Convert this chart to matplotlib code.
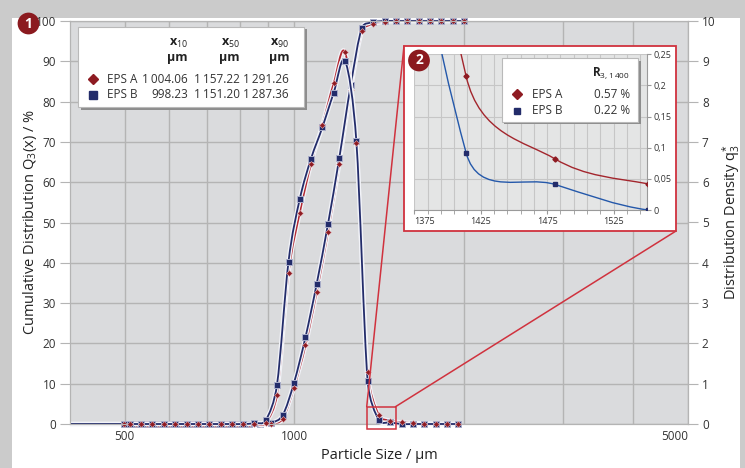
import numpy as np
import matplotlib
matplotlib.use('Agg')
import matplotlib.pyplot as plt
from matplotlib.path import Path
from matplotlib.patches import PathPatch, Rectangle, ConnectionPatch
from matplotlib.lines import Line2D
from matplotlib.ticker import NullFormatter
import matplotlib.patheffects as pe

plt.rcParams['font.family'] = ['Open Sans', 'DejaVu Sans']
plt.rcParams['mathtext.fontset'] = 'custom'
plt.rcParams['mathtext.rm'] = 'Open Sans'
plt.rcParams['mathtext.it'] = 'Open Sans'
plt.rcParams['mathtext.bf'] = 'Open Sans:bold'

#### D A T A ####

# class boundaries (cumulative Q3) and class midpoints (density q3*), in µm
size_cum = [400, 499, 523, 548, 573, 600, 629, 659, 690, 723, 757, 793, 830, 870, 911, 954,
            999, 1047, 1096, 1148, 1202, 1260, 1319, 1382, 1447, 1516, 1587, 1662, 1741,
            1824, 1910, 2001]
cum_a = [0, 0, 0, 0, 0, 0, 0, 0, 0, 0, 0, 0, 0, 0.0, 0.1, 1.3,
         9.0, 19.5, 32.7, 47.6, 64.5, 82.9, 97.4, 99.3, 99.8, 100, 100, 100, 100,
         100, 100, 100]
cum_b = [0, 0, 0, 0, 0, 0, 0, 0, 0, 0, 0, 0, 0, 0.1, 0.3, 2.2,
         10.2, 21.5, 34.7, 49.6, 65.9, 84.1, 98.3, 99.7, 100, 100, 100, 100, 100,
         100, 100, 100]

size_dens = [511, 535, 560, 587, 615, 644, 674, 706, 740, 775, 811, 850, 890, 932, 977,
             1023, 1071, 1122, 1175, 1231, 1289, 1350, 1414, 1481, 1551, 1625, 1702,
             1782, 1867, 1955]
dens_a = [0, 0, 0, 0, 0, 0, 0, 0, 0, 0, 0, 0.0, 0.03, 0.73, 3.74,
          5.24, 6.45, 7.42, 8.45, 9.22, 6.98, 1.29, 0.215, 0.082, 0.042, 0.025, 0.012,
          0.005, 0, 0]
dens_b = [0, 0, 0, 0, 0, 0, 0, 0, 0, 0, 0, 0.02, 0.09, 0.97, 4.03,
          5.58, 6.58, 7.36, 8.22, 9.01, 7.03, 1.07, 0.092, 0.041, 0.0, 0, 0,
          0, 0, 0]

samples = ['EPS A', 'EPS B']
x10 = ['1\u2009004.06', '998.23']
x50 = ['1\u2009157.22', '1\u2009151.20']
x90 = ['1\u2009291.26', '1\u2009287.36']
residue = ['0.57 %', '0.22 %']

RED_M = '#8e1b22'
RED_L = '#b3262f'
NAVY = '#232c6a'
BLUE_IN = '#2458aa'
GRID = '#b4b4b4'
TXT = '#333333'

W, H = 745, 468


def px(x, y):
    return x / W, 1 - y / H


def excel_path(ax, x, y):
    # Excel style smoothed line: bezier through the points, tangent capped
    pts = ax.transData.transform(np.column_stack([x, y]))
    n = len(pts)
    verts = [pts[0]]
    codes = [Path.MOVETO]
    for i in range(n - 1):
        p0 = pts[i - 1] if i > 0 else pts[i]
        p1, p2 = pts[i], pts[i + 1]
        p3 = pts[i + 2] if i + 2 < n else pts[i + 1]
        d12 = np.hypot(*(p2 - p1))
        d02 = np.hypot(*(p2 - p0))
        d13 = np.hypot(*(p3 - p1))
        f1 = 1 / 6 if d02 / 6 < d12 / 2 else (d12 / (2 * d02) if d02 > 0 else 0)
        f2 = 1 / 6 if d13 / 6 < d12 / 2 else (d12 / (2 * d13) if d13 > 0 else 0)
        verts += [p1 + (p2 - p0) * f1, p2 - (p3 - p1) * f2, p2]
        codes += [Path.CURVE4] * 3
    verts = ax.transData.inverted().transform(np.array(verts))
    return Path(verts, codes)


fig = plt.figure(figsize=(W / 100, H / 100), dpi=100)
fig.patch.set_facecolor('#cbcbcb')
fig.add_artist(Rectangle(px(12, 468), (740 - 12) / W, (468 - 18) / H, transform=fig.transFigure,
                         facecolor='white', edgecolor='none', zorder=-5))

#### M A I N _ P L O T ####
l, b = px(70, 424)
ax = fig.add_axes([l, b, (688 - 70) / W, (424 - 21) / H])
ax.set_xscale('log')
ax.set_xlim(400, 5000)
ax.set_ylim(0, 100)
ax.set_facecolor('#dadbdd')
ax.set_xticks([500, 1000, 5000])
ax.set_xticklabels(['500', '1000', '5000'])
ax.set_xticks([600, 700, 800, 900, 2000, 3000, 4000], minor=True)
ax.xaxis.set_minor_formatter(NullFormatter())
ax.get_xticklabels()[-1].set_ha('right')
ax.set_yticks(range(0, 101, 10))
ax.grid(True, which='both', axis='both', color=GRID, lw=1)
ax.set_axisbelow(True)
ax.tick_params(axis='x', which='both', length=0, labelsize=8.5, labelcolor=TXT, pad=4)
ax.tick_params(axis='y', length=7, color=GRID, labelsize=8.5, labelcolor=TXT, pad=3)
for s in ax.spines.values():
    s.set_color(GRID)
ax.set_xlabel('Particle Size / µm', fontsize=10.5, color='#222222', labelpad=4)
ax.set_ylabel('Cumulative Distribution Q$_3$(x) / %', fontsize=10.5, color='#222222')
ax.yaxis.set_label_coords(-0.05, 0.5)

ax2 = ax.twinx()
ax2.set_xlim(400, 5000)
ax2.set_ylim(0, 10)
ax2.set_yticks(range(0, 11))
ax2.tick_params(axis='y', length=7, color=GRID, labelsize=8.5, labelcolor=TXT, pad=3)
for s in ax2.spines.values():
    s.set_color(GRID)
ax2.set_ylabel('Distribution Density q$_{3}^{*}$', fontsize=10.5, color='#222222', labelpad=3)

halo = [pe.Stroke(linewidth=3.2, foreground='#f2f3f8'), pe.Normal()]
for axis, xs, ys, col in [(ax, size_cum, cum_a, RED_L), (ax, size_cum, cum_b, NAVY),
                          (ax2, size_dens, dens_a, RED_L), (ax2, size_dens, dens_b, NAVY)]:
    axis.add_patch(PathPatch(excel_path(axis, xs, ys), fill=False, ec=col, lw=1.3,
                             clip_on=False, path_effects=halo, zorder=3))

for axis, xs, ya, yb, skip in [(ax, size_cum, cum_a, cum_b, 1), (ax2, size_dens, dens_a, dens_b, 0)]:
    axis.plot(xs, yb, ls='none', marker='s', ms=4.4, mfc=NAVY, mec='#a9adc9', mew=0.7,
              markevery=slice(skip, None), clip_on=False, zorder=4)
    axis.plot(xs, ya, ls='none', marker='D', ms=3.0, mfc=RED_M, mec='#e6b9bd', mew=0.4,
              markevery=slice(skip, None), clip_on=False, zorder=5)

# zoom box and connector lines
zoom = Rectangle((1345, -0.13), 1513 - 1345, 0.56, fill=False, ec='#d0323e', lw=1.1,
                 clip_on=False, zorder=6)
ax2.add_patch(zoom)
for xa, ya, xb, yb in [(1345, 0.43, 404, 46), (1513, 0.43, 676, 231)]:
    fig.add_artist(ConnectionPatch(xyA=(xa, ya), coordsA=ax2.transData, xyB=px(xb, yb),
                                   coordsB=fig.transFigure, color='#d0323e', lw=1.1, zorder=4))

#### L E G E N D _ T A B L E ####
fig.add_artist(Rectangle(px(80.5, 109.5), (304 - 78) / W, (107 - 27) / H, transform=fig.transFigure,
                         facecolor='#8d8d8d', edgecolor='none', zorder=7))
fig.add_artist(Rectangle(px(78, 107), (304 - 78) / W, (107 - 27) / H, transform=fig.transFigure,
                         facecolor='white', edgecolor='#b9b9b9', lw=0.8, zorder=8))
for xr, head in [(188, 'x$_{10}$'), (240, 'x$_{50}$'), (289, 'x$_{90}$')]:
    fig.text(*px(xr, 43), head, ha='right', va='center', fontsize=9, weight='bold', color='#222222', zorder=9)
    fig.text(*px(xr, 58), 'µm', ha='right', va='center', fontsize=9, weight='bold', color='#222222', zorder=9)
for i, (name, mk, col, ms) in enumerate(zip(samples, ['D', 's'], [RED_M, NAVY], [5, 5.5])):
    yy = 79 + 16 * i
    fig.add_artist(Line2D([px(93, yy)[0]], [px(93, yy)[1]], transform=fig.transFigure, marker=mk,
                          ms=ms, color=col, ls='none', zorder=9))
    fig.text(*px(107, yy), name, ha='left', va='center', fontsize=8.5, color=TXT, zorder=9)
    for xr, val in [(188, x10[i]), (240, x50[i]), (289, x90[i])]:
        fig.text(*px(xr, yy), val, ha='right', va='center', fontsize=8.5, color=TXT, zorder=9)

fig.text(*px(28.5, 23.5), '1', ha='center', va='center', fontsize=10, weight='bold', color='white',
         bbox=dict(boxstyle='circle,pad=0.28', fc='#8b1a1f', ec='none'), zorder=9)

#### I N S E T ####
fig.add_artist(Rectangle(px(404, 231), (676 - 404) / W, (231 - 46) / H, transform=fig.transFigure,
                         facecolor='white', edgecolor='#d0323e', lw=1.3, zorder=10))
l, b = px(414.3, 210)
ax_in = fig.add_axes([l, b, 232.4 / W, 155.7 / H])
ax_in.set_zorder(11)
ax_in.set_xlim(1375, 1550)
ax_in.set_ylim(0, 0.25)
ax_in.set_facecolor('#e4e5e5')
ax_in.set_xticks([1375, 1425, 1475, 1525])
ax_in.set_xticks(np.arange(1385, 1550, 10), minor=True)
ax_in.xaxis.set_minor_formatter(NullFormatter())
ax_in.get_xticklabels()[0].set_ha('left')
ax_in.set_yticks([0, 0.05, 0.1, 0.15, 0.2, 0.25])
ax_in.set_yticklabels(['0', '0,05', '0,1', '0,15', '0,2', '0,25'])
ax_in.yaxis.tick_right()
ax_in.grid(True, which='both', color='#c6c6c6', lw=0.8)
ax_in.set_axisbelow(True)
ax_in.tick_params(which='both', length=3, color='#999999', labelsize=6.5, labelcolor=TXT, pad=2)
for k in ['left', 'top']:
    ax_in.spines[k].set_visible(False)
for k in ['right', 'bottom']:
    ax_in.spines[k].set_color('#9a9a9a')
for ys, col in [(dens_a, '#a3262d'), (dens_b, BLUE_IN)]:
    ax_in.add_patch(PathPatch(excel_path(ax_in, size_dens, ys), fill=False, ec=col, lw=1.0, zorder=3))
ax_in.plot(size_dens, dens_a, ls='none', marker='D', ms=2.6, color=RED_M, zorder=4)
ax_in.plot(size_dens, dens_b, ls='none', marker='s', ms=2.8, color=NAVY, zorder=4)

fig.add_artist(Rectangle(px(504, 124), (638.3 - 501.7) / W, (121.7 - 58.3) / H, transform=fig.transFigure,
                         facecolor='#8d8d8d', edgecolor='none', zorder=12))
fig.add_artist(Rectangle(px(501.7, 121.7), (638.3 - 501.7) / W, (121.7 - 58.3) / H, transform=fig.transFigure,
                         facecolor='white', edgecolor='#b9b9b9', lw=0.8, zorder=13))
fig.text(*px(630, 73.5), 'R$_{3,1\\,400}$', ha='right', va='center', fontsize=8.5, weight='bold',
         color='#222222', zorder=14)
for i, (name, mk, col) in enumerate(zip(samples, ['D', 's'], [RED_M, NAVY])):
    yy = 94.3 + 16.4 * i
    fig.add_artist(Line2D([px(516.7, yy)[0]], [px(516.7, yy)[1]], transform=fig.transFigure, marker=mk,
                          ms=5, color=col, ls='none', zorder=14))
    fig.text(*px(531.7, yy), name, ha='left', va='center', fontsize=8.5, color=TXT, zorder=14)
    fig.text(*px(630, yy), residue[i], ha='right', va='center', fontsize=8.5, color=TXT, zorder=14)

fig.text(*px(419, 60.5), '2', ha='center', va='center', fontsize=10, weight='bold', color='white',
         bbox=dict(boxstyle='circle,pad=0.28', fc='#8b1a1f', ec='none'), zorder=14)

plt.savefig('out.png', dpi=100, facecolor=fig.get_facecolor())
